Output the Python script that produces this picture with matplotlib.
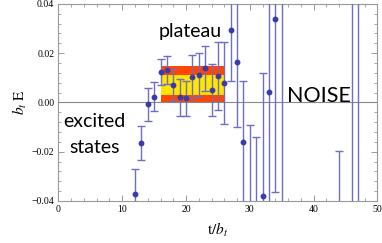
import matplotlib
matplotlib.use("Agg")
import matplotlib.pyplot as plt
from matplotlib.ticker import MultipleLocator, FuncFormatter

plt.rcParams["mathtext.fontset"] = "stix"

# data
t = [12, 13, 14, 15, 16, 17, 18, 19, 20, 21, 22, 23, 24, 25, 26, 27, 28, 29,
     30, 31, 32, 33, 34, 35, 44, 46, 47]
energy = [-0.0372, -0.0164, -0.0008, 0.0023, 0.0124, 0.0131, 0.0070, 0.0020,
          0.0016, 0.0104, 0.0111, 0.0138, 0.0049, 0.0107, 0.0078, 0.0295,
          0.0166, -0.0160, -0.0450, -0.0500, -0.0379, 0.0041, 0.0338, 0.0600,
          -0.0700, 0.0800, -0.0900]
error = [0.0100, 0.0068, 0.0066, 0.0058, 0.0053, 0.0058, 0.0066, 0.0076,
         0.0070, 0.0087, 0.0090, 0.0090, 0.0106, 0.0137, 0.0167, 0.0209,
         0.0265, 0.0246, 0.0357, 0.0358, 0.0498, 0.0600, 0.0700, 0.1100,
         0.0502, 0.1500, 0.1500]

plateau_range = (16, 26)
plateau_value = 0.0072
plateau_inner = 0.0041
plateau_outer = 0.0075

fig = plt.figure(figsize=(3.82, 2.43), dpi=100)
ax = fig.add_axes([0.153, 0.173, 0.835, 0.811])

x0, x1 = plateau_range
ax.fill_between([x0, x1], plateau_value - plateau_outer, plateau_value + plateau_outer,
                color="#ff4500", lw=0, zorder=1)
ax.fill_between([x0, x1], plateau_value - plateau_inner, plateau_value + plateau_inner,
                color="#ffe600", lw=0, zorder=2)
ax.axhline(0, color="#888888", lw=0.8, zorder=3)

ax.errorbar(t, energy, yerr=error, fmt="o", color="#3a3aa8", ecolor="#6e6ec4",
            ms=3.2, elinewidth=1.0, capsize=3.0, capthick=1.0, zorder=4)

ax.set_xlim(0, 50)
ax.set_ylim(-0.04, 0.04)
ax.xaxis.set_major_locator(MultipleLocator(10))
ax.xaxis.set_minor_locator(MultipleLocator(2))
ax.yaxis.set_major_locator(MultipleLocator(0.02))
ax.yaxis.set_minor_locator(MultipleLocator(0.004))
ax.yaxis.set_major_formatter(FuncFormatter(lambda v, p: f"{v:.2f}".replace("-", "\u2212")))

for s in ax.spines.values():
    s.set_color("#999999")
    s.set_linewidth(0.8)
ax.tick_params(which="both", direction="in", top=True, right=True, color="#999999",
               labelsize=7, pad=3)
ax.tick_params(which="major", length=4, width=0.7)
ax.tick_params(which="minor", length=2, width=0.6)
for lab in ax.get_xticklabels() + ax.get_yticklabels():
    lab.set_family("Liberation Serif")

ax.set_ylabel(r"$b_t\ \mathrm{E}$", fontsize=11, labelpad=2)
ax.set_xlabel(r"$\mathrm{t}/b_t$", fontsize=11, labelpad=5)

ax.text(20.6, 0.0266, "plateau", fontsize=14, family="Lato", ha="center", va="baseline", zorder=5)
ax.text(5.6, -0.0099, "excited", fontsize=14, family="Lato", ha="center", va="baseline", zorder=5)
ax.text(5.6, -0.0207, "states", fontsize=14, family="Lato", ha="center", va="baseline", zorder=5)
ax.text(40.8, 0.0003, "NOISE", fontsize=15.5, family="Lato", ha="center", va="baseline", zorder=5)

fig.savefig("out.png", dpi=100)
